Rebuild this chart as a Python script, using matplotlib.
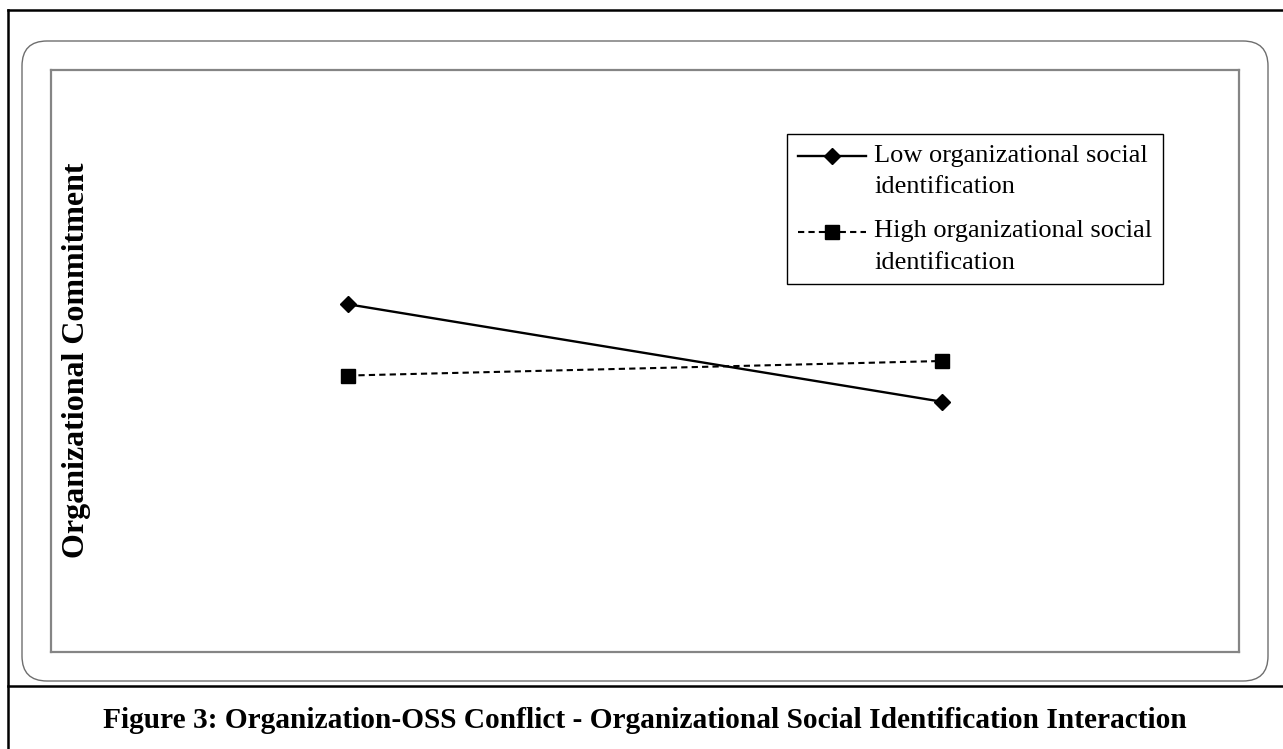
import matplotlib
matplotlib.use("Agg")
import matplotlib.pyplot as plt
from matplotlib.lines import Line2D
from matplotlib.patches import FancyBboxPatch

# ---- data ----
conflict_levels = ["Low conflict", "High conflict"]
low_identification = [3.39, 2.72]
high_identification = [2.90, 3.00]
series_labels = ["Low organizational social\nidentification",
                 "High organizational social\nidentification"]
y_label = "Organizational Commitment"
caption = "Figure 3: Organization-OSS Conflict - Organizational Social Identification Interaction"

plt.rcParams['font.family'] = ['Liberation Serif', 'DejaVu Serif']

W, H, DPI = 1283, 749, 100
fig = plt.figure(figsize=(W / DPI, H / DPI), dpi=DPI)

def px(x, y):
    return x / DPI, (H - y) / DPI

# outer frame lines (pixel -> inches)
tr = fig.dpi_scale_trans
for (x0, y0), (x1, y1) in [((8, 10), (8, 749)), ((8, 10), (1283, 10)), ((8, 686), (1283, 686))]:
    a, b = px(x0, y0)
    c, d = px(x1, y1)
    fig.add_artist(Line2D([a, c], [b, d], transform=tr, color='black', lw=1.8))

# rounded chart-area box
rx0, ry0 = px(22, 681)
fig.add_artist(FancyBboxPatch((rx0, ry0), (1268 - 22) / DPI, (681 - 41) / DPI,
                              boxstyle="round,pad=0,rounding_size=0.25",
                              transform=tr, fill=False, edgecolor='#6e6e6e', lw=1.0))

# plot area
ax = fig.add_axes([51 / W, (H - 652) / H, (1239 - 51) / W, (652 - 70) / H])
x = list(range(len(conflict_levels)))
ax.plot(x, low_identification, color='black', lw=1.7, marker='D', markersize=7.8,
        label=series_labels[0])
ax.plot(x, high_identification, color='black', lw=1.5, linestyle=(0, (3, 2)),
        marker='s', markersize=10.5, label=series_labels[1])
ax.set_xlim(-0.5, 1.5)
ax.set_ylim(1, 5)
ax.set_xticks([])
ax.set_yticks([])
for s in ax.spines.values():
    s.set_color('#858585')
    s.set_linewidth(1.6)

ax.set_ylabel(y_label, fontsize=23, fontweight='bold', va='center')
ax.yaxis.set_label_coords((77 - 51) / 1188, (652 - 360) / 582)

leg = ax.legend(loc='upper right', bbox_to_anchor=((1163 - 51) / 1188, (652 - 134) / 582),
                borderaxespad=0, fontsize=19, frameon=True, fancybox=False,
                edgecolor='black', framealpha=1, handlelength=2.6, handletextpad=0.3,
                borderpad=0.4, labelspacing=0.85, numpoints=1, handleheight=1.3)
leg.get_frame().set_linewidth(1.0)
for t in leg.get_texts():
    t.set_linespacing(1.55)
for col in leg._legend_handle_box.get_children():
    for row in col.get_children():
        row.align = 'top'

fig.text(645 / W, 1 - 721 / H, caption, ha='center', va='center',
         fontsize=21.2, fontweight='bold')

fig.savefig("out.png", dpi=DPI)
